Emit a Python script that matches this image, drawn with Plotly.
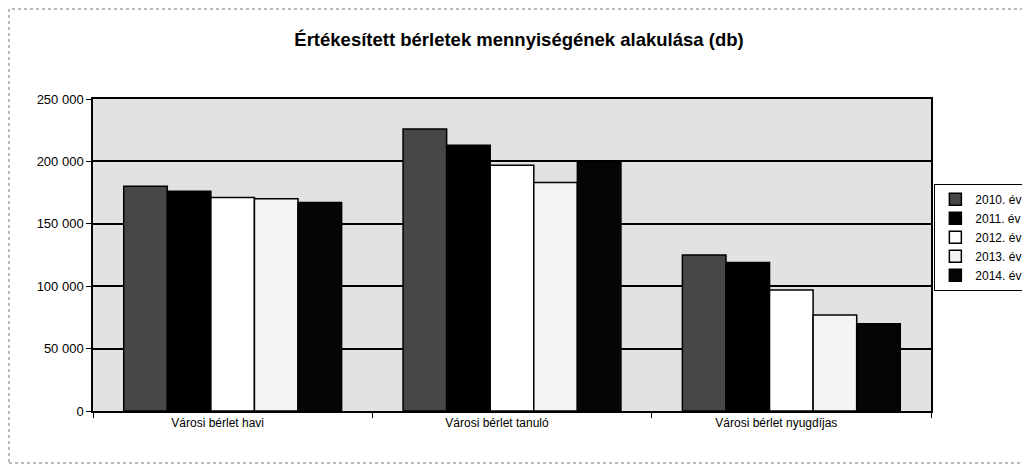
import plotly.graph_objects as go

categories = ["Városi bérlet havi", "Városi bérlet tanuló", "Városi bérlet nyugdíjas"]
years = ["2010. év", "2011. év", "2012. év", "2013. év", "2014. év"]
v2010 = [180000, 226000, 125000]
v2011 = [176000, 213000, 119000]
v2012 = [171000, 197000, 97000]
v2013 = [170000, 183000, 77000]
v2014 = [167000, 200000, 70000]
tick_vals = [0, 50000, 100000, 150000, 200000, 250000]
tick_text = ["0", "50 000", "100 000", "150 000", "200 000", "250 000"]

series = [v2010, v2011, v2012, v2013, v2014]
colors = ["#474747", "#000000", "#ffffff", "#f4f4f4", "#050505"]

fig = go.Figure()
for name, vals, col in zip(years, series, colors):
    fig.add_trace(go.Bar(x=categories, y=vals, name=name,
                         marker=dict(color=col, line=dict(color="#000000", width=1.5))))

fig.update_layout(
    width=1022, height=456,
    margin=dict(l=85, r=99, t=91, b=53, autoexpand=False),
    paper_bgcolor="#ffffff",
    plot_bgcolor="#e2e2e2",
    barmode="group", bargap=0.22, bargroupgap=0,
    font=dict(family="Arial, Liberation Sans", color="#000000", size=12),
    title=dict(text="<b>Értékesített bérletek mennyiségének alakulása (db)</b>",
               x=0.5, xanchor="center", y=0.93, yanchor="middle",
               font=dict(size=18.5, family="Arial, Liberation Sans", color="#000")),
    legend=dict(x=1.004, xanchor="left", y=0.728, yanchor="top",
                bgcolor="#ffffff", bordercolor="#000000", borderwidth=1,
                font=dict(size=12, family="Arial, Liberation Sans"),
                itemwidth=30, tracegroupgap=0),
    showlegend=True,
)
fig.update_xaxes(showline=True, linecolor="#000", linewidth=1.5, mirror=True,
                 ticks="outside", tickson="boundaries", ticklen=5, tickcolor="#000",
                 tickfont=dict(size=12), ticklabelshift=-15)
fig.update_yaxes(range=[0, 250000], tickvals=tick_vals, ticktext=tick_text,
                 showgrid=True, gridcolor="#000", gridwidth=1.5,
                 showline=True, linecolor="#000", linewidth=1.5, mirror=True,
                 ticks="outside", ticklen=5, tickcolor="#000",
                 tickfont=dict(size=13), zeroline=False)
fig.add_shape(type="rect", xref="paper", yref="paper",
              x0=-84 / 838, x1=1 + 120 / 838, y0=-52 / 312, y1=1 + 90 / 312,
              line=dict(color="#777", width=1, dash="dot"))
fig.write_html("out.html")
